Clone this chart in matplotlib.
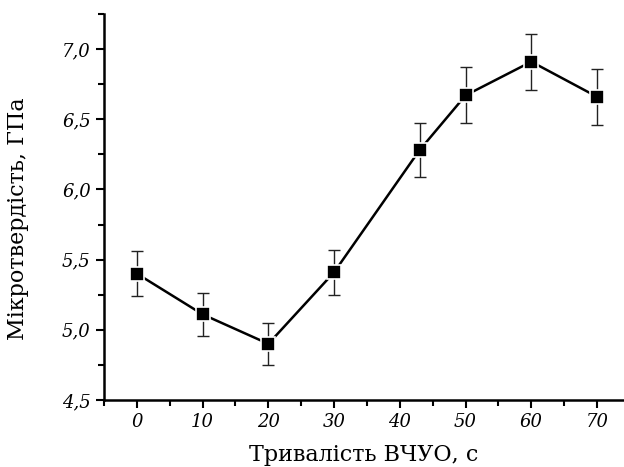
import matplotlib
matplotlib.use("Agg")
import matplotlib.pyplot as plt
from matplotlib.ticker import MultipleLocator, FuncFormatter

# тривалість обробки, с
duration = [0, 10, 20, 30, 43, 50, 60, 70]
# мікротвердість, ГПа
hardness = [5.40, 5.11, 4.90, 5.41, 6.28, 6.67, 6.91, 6.66]
hardness_err = [0.16, 0.155, 0.15, 0.16, 0.19, 0.20, 0.20, 0.20]

x_label = "Тривалість ВЧУО, с"
y_label = "Мікротвердість, ГПа"

plt.rcParams["font.family"] = ["DejaVu Serif"]

fig = plt.figure(figsize=(6.24, 4.67), dpi=100)
ax = fig.add_axes([0.1667, 0.1435, 0.8333, 0.8266])

ax.plot(duration, hardness, color="black", lw=1.8, zorder=2)
ax.errorbar(duration, hardness, yerr=hardness_err, fmt="none", ecolor="#222222",
            elinewidth=1.0, capsize=4.5, capthick=1.0, zorder=3)
ax.plot(duration, hardness, ls="none", marker="s", ms=10.5, mfc="black",
        mec="white", mew=1.2, zorder=4)

ax.set_xlim(-5, 74.1)
ax.set_ylim(4.5, 7.25)

ax.xaxis.set_major_locator(MultipleLocator(10))
ax.xaxis.set_minor_locator(MultipleLocator(5))
ax.yaxis.set_major_locator(MultipleLocator(0.5))
ax.yaxis.set_minor_locator(MultipleLocator(0.25))
ax.yaxis.set_major_formatter(FuncFormatter(lambda v, p: f"{v:.1f}".replace(".", ",")))

for side in ["top", "right"]:
    ax.spines[side].set_visible(False)
for side in ["left", "bottom"]:
    ax.spines[side].set_linewidth(1.8)

ax.tick_params(which="major", direction="out", length=6, width=1.5, labelsize=13)
ax.tick_params(which="minor", direction="out", length=4, width=1.5)
for lbl in ax.get_xticklabels() + ax.get_yticklabels():
    lbl.set_fontstyle("italic")

ax.set_xlabel(x_label, fontsize=16, labelpad=9)
ax.set_ylabel(y_label, fontsize=16)
ax.yaxis.set_label_coords(-0.145, 0.47)

fig.savefig("out.png", dpi=100)
